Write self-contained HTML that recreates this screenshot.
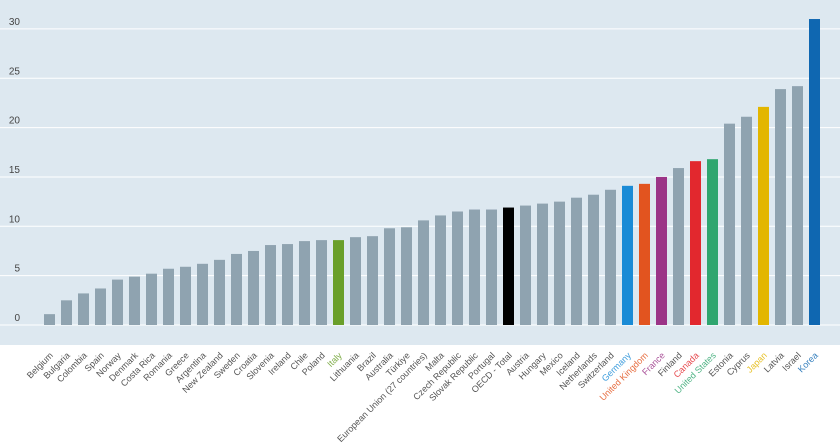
<!DOCTYPE html>
<html><head><meta charset="utf-8"><style>
body{margin:0;background:#fff;}
svg{display:block;font-family:"Liberation Sans",sans-serif;}
</style></head><body>
<svg id="chart" width="840" height="446" viewBox="0 0 840 446" xmlns="http://www.w3.org/2000/svg">
<rect x="0" y="0" width="840" height="345" fill="#dde8f0"/>
<g id="grid"></g><g id="bars"></g><g id="labels"></g>
</svg>
<script>
const categories=["Belgium","Bulgaria","Colombia","Spain","Norway","Denmark","Costa Rica","Romania","Greece","Argentina","New Zealand","Sweden","Croatia","Slovenia","Ireland","Chile","Poland","Italy","Lithuania","Brazil","Australia","Türkiye","European Union (27 countries)","Malta","Czech Republic","Slovak Republic","Portugal","OECD - Total","Austria","Hungary","Mexico","Iceland","Netherlands","Switzerland","Germany","United Kingdom","France","Finland","Canada","United States","Estonia","Cyprus","Japan","Latvia","Israel","Korea"];
const values=[1.1,2.5,3.2,3.7,4.6,4.9,5.2,5.7,5.9,6.2,6.6,7.2,7.5,8.1,8.2,8.5,8.6,8.6,8.9,9.0,9.8,9.9,10.6,11.1,11.5,11.7,11.7,11.9,12.1,12.3,12.5,12.9,13.2,13.7,14.1,14.3,15.0,15.9,16.6,16.8,20.4,21.1,22.1,23.9,24.2,31.0];
const highlights={"Italy":"#6a9f2a","OECD - Total":"#000000","Germany":"#1a8bd6","United Kingdom":"#e2541f","France":"#9b3487","Canada":"#e2282e","United States":"#2fa66f","Japan":"#e3b600","Korea":"#0f67b1"};
const ticks=[0,5,10,15,20,25,30];
const NS="http://www.w3.org/2000/svg";
const y=v=>325-v*9.87;
const x=i=>49.5+i*17;
function mk(t,a,p){const e=document.createElementNS(NS,t);for(const k in a)e.setAttribute(k,a[k]);p.appendChild(e);return e;}
const grid=document.getElementById('grid'),bars=document.getElementById('bars'),labels=document.getElementById('labels');
ticks.forEach(t=>{
 const l=mk('line',{x1:0,x2:840,y1:y(t),y2:y(t),stroke:'#fff','stroke-width':1},grid);
 
 
 const tx=mk('text',{x:20,y:y(t)-4,'text-anchor':'end','font-size':10,fill:'#444'},grid);
 tx.textContent=t;
 
 
});
categories.forEach((c,i)=>{
 const col=highlights[c]||'#8fa3b0';
 const r=mk('rect',{x:x(i)-5.5,y:y(values[i]),width:11,height:y(0)-y(values[i]),fill:col},bars);
 
 
 const hl=highlights[c]&&c!=='OECD - Total';
 const t=mk('text',{x:0,y:0,'text-anchor':'end','font-size':9,fill:hl?highlights[c]:'#555','fill-opacity':hl?0.85:1,transform:`translate(${x(i)+4},${356}) rotate(-45)`},labels);
 t.textContent=c;
 
 
});
</script>
</body></html>
